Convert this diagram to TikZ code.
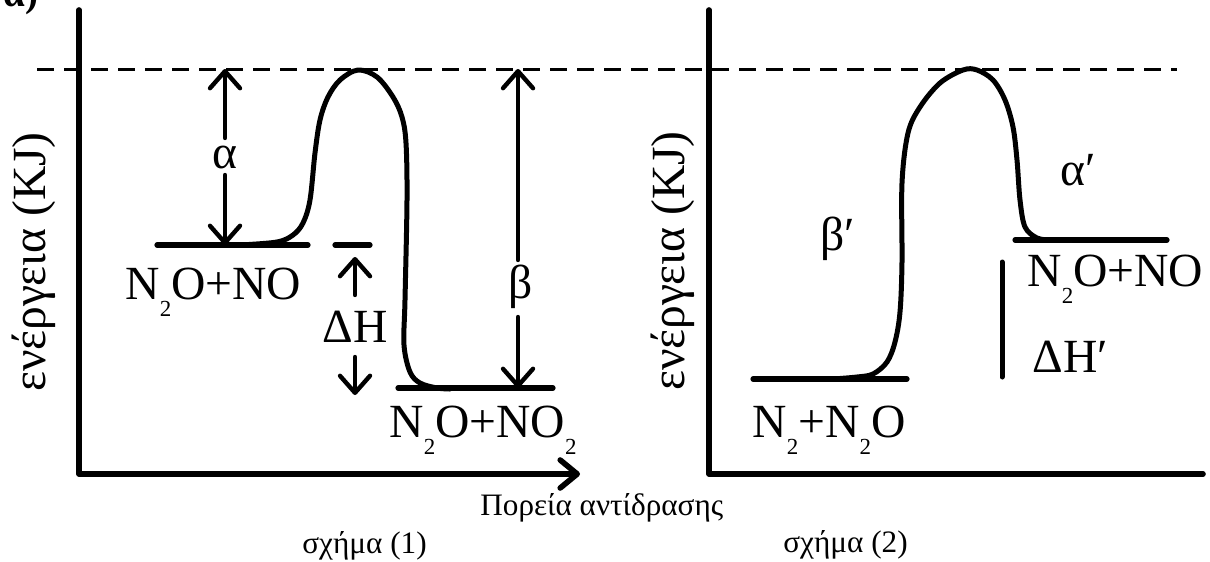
\documentclass[tikz,border=0pt]{standalone}
\usepackage{fontspec}
\setmainfont{Liberation Serif}
\usetikzlibrary{arrows.meta}
\newcommand\subtwo{\raisebox{-8.5pt}{\fontsize{11.5}{12}\selectfont 2}}
\begin{document}
\begin{tikzpicture}[x=0.5pt,y=-0.5pt,line cap=round,line join=round,
  axis/.style={line width=2.8pt},
  level/.style={line width=2.6pt},
  curve/.style={line width=2.5pt},
  arr/.style={line width=2.2pt,-{Straight Barb[length=8.5pt,width=15pt,round]}},
  dashline/.style={line width=1.5pt,dash pattern=on 8.5pt off 5pt,line cap=butt},
  big/.style={font=\fontsize{23.8}{28}\selectfont,inner sep=0pt},
  small/.style={font=\fontsize{15.6}{18}\selectfont,inner sep=0pt}]
\useasboundingbox (0,0) rectangle (1210,562);

% corner label (cut off as in the reference)
\node[anchor=base west,inner sep=0pt,font=\bfseries\fontsize{19.5}{20}\selectfont] (tag) at (3,6) {α)};

% axes
\coordinate (Y1) at (79,10); \coordinate (O1) at (79,474); \coordinate (X1) at (580,474);
\coordinate (Y2) at (709,10); \coordinate (O2) at (709,474); \coordinate (X2) at (1203,474);
\draw[axis,-{Straight Barb[length=8.5pt,width=14pt,round]}] (Y1) -- (O1) -- (X1);
\draw[axis] (Y2) -- (O2) -- (X2);

% dashed top line
\coordinate (D1) at (37,69); \coordinate (D2) at (1177,69);
\draw[dashline] (D1) -- (D2);

% axis labels
\node[big,rotate=90,anchor=base] (ylab1) at (45,262) {ενέργεια (KJ)};
\node[big,rotate=90,anchor=base] (ylab2) at (684,261) {ενέργεια (KJ)};
\node[small,anchor=base west] (xlab) at (480,515) {Πορεία αντίδρασης};
\node[small,anchor=base west] (cap1) at (302,553) {σχήμα (1)};
\node[small,anchor=base west] (cap2) at (783,552) {σχήμα (2)};

% levels, figure 1
\coordinate (L1a) at (157,245); \coordinate (L1b) at (308,245);
\coordinate (Ma) at (335,245); \coordinate (Mb) at (370,245);
\coordinate (L2a) at (398,388); \coordinate (L2b) at (553,388);
\draw[level] (L1a) -- (L1b);
\draw[level] (Ma) -- (Mb);
\draw[level] (L2a) -- (L2b);

% curve, figure 1
\draw[curve] plot[smooth,tension=0.55] coordinates {(240,245) (277,242) (293,235) (303,223) (310,200) (315,153) (320,120) (328,97) (340,80) (358,70) (377,77) (393,97) (402,117) (406,143) (407,200) (405,300) (404,345) (410,372) (420,383) (437,388) (450,389)};

% labels, figure 1
\node[big,anchor=base west] (r1) at (125,299) {N\subtwo O+NO};
\node[big,anchor=base west] (p1) at (389,437) {N\subtwo O+NO\subtwo};
\node[big,anchor=base west] (dh) at (322,342) {ΔH};
\node[big,anchor=base] (alab) at (225,168) {α};
\node[big,anchor=base] (blab) at (521,298) {β};

% arrows, figure 1
\coordinate (atop) at (225,69); \coordinate (a1) at (225,138);
\coordinate (a2) at (225,175); \coordinate (abot) at (225,245);
\draw[arr] (a1) -- (atop);
\draw[arr] (a2) -- (abot);
\coordinate (btop) at (518,69); \coordinate (b1) at (518,260);
\coordinate (b2) at (518,317); \coordinate (bbot) at (518,388);
\draw[arr] (b1) -- (btop);
\draw[arr] (b2) -- (bbot);
\coordinate (h1) at (355,295); \coordinate (h1t) at (355,257);
\coordinate (h2) at (355,357); \coordinate (h2t) at (355,395);
\draw[arr] (h1) -- (h1t);
\draw[arr] (h2) -- (h2t);

% levels, figure 2
\coordinate (R1a) at (753,379); \coordinate (R1b) at (907,379);
\coordinate (R2a) at (1015,240); \coordinate (R2b) at (1167,240);
\draw[level] (R1a) -- (R1b);
\draw[level] (R2a) -- (R2b);
\coordinate (V1) at (1002,262); \coordinate (V2) at (1002,377);
\draw[curve] (V1) -- (V2);

% curve, figure 2
\draw[curve] plot[smooth,tension=0.55] coordinates {(833,379) (857,377) (873,374) (887,362) (895,342) (900,312) (902,262) (902,183) (908,133) (920,107) (940,83) (963,70) (977,70) (993,80) (1005,100) (1013,127) (1017,160) (1020,200) (1025,227) (1037,238) (1050,240)};

% labels, figure 2
\node[big,anchor=base west] (r2) at (752,437) {N\subtwo+N\subtwo O};
\node[big,anchor=base west] (p2) at (1027,286) {N\subtwo O+NO};
\node[big,anchor=base west] (dh2) at (1032,372) {ΔH′};
\node[big,anchor=base west] (bp) at (820,250) {β′};
\node[big,anchor=base west] (ap) at (1060,185) {α′};
\end{tikzpicture}
\end{document}
